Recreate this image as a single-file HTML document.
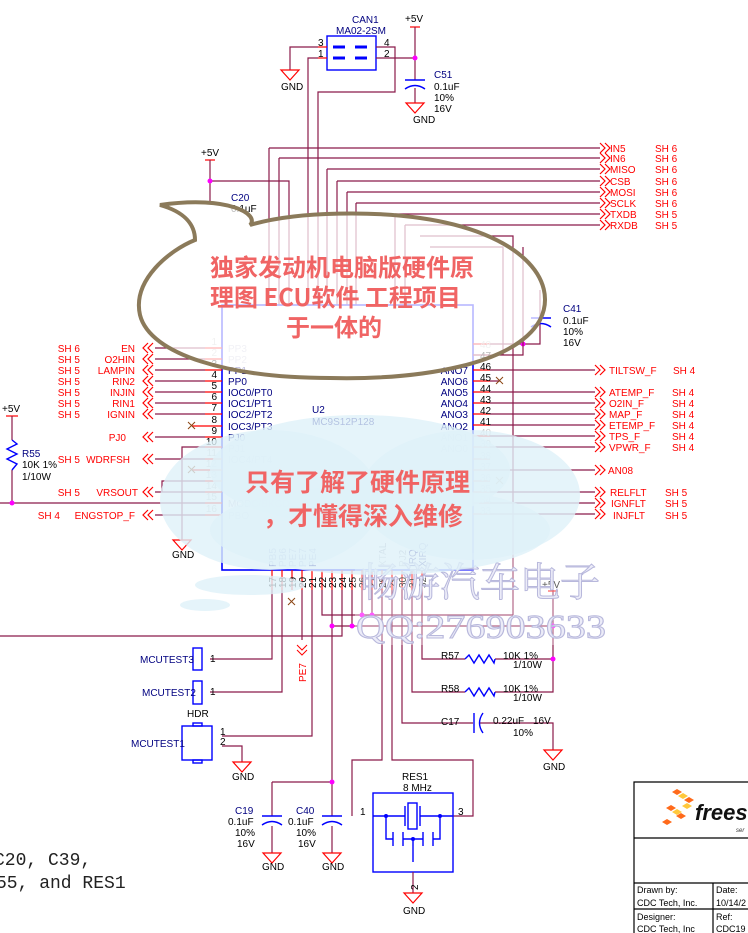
<!DOCTYPE html>
<html><head><meta charset="utf-8"><style>
html,body{margin:0;padding:0;background:#fff;width:748px;height:933px;overflow:hidden}
svg{display:block}
svg{font-family:"Liberation Sans","Noto Sans CJK SC",sans-serif}
.w{stroke:#8b1a4a;stroke-width:1.2;fill:none}
.r{stroke:#ff0000;stroke-width:1.2;fill:none}
.b{stroke:#0000ff;stroke-width:1.4;fill:none}
.lr{fill:#ff0000;font-size:10px}
.lb{fill:#000080;font-size:10px}
.lk{fill:#000;font-size:10px}
.mono{font-family:"Liberation Mono",monospace}
.cjk{font-family:"Noto Sans CJK SC",sans-serif}
.serif{font-family:"Liberation Serif",serif}
.cjks{font-family:"Noto Serif CJK SC",serif}
</style></head><body>
<svg width="748" height="933" viewBox="0 0 748 933" xmlns="http://www.w3.org/2000/svg">
<defs>
<path id="ch" d="M10,-5 L5,0 L10,5 M15,-5 L10,0 L15,5" stroke="#ff0000" stroke-width="1.2" fill="none"/>
<path id="chr" d="M0,-5 L5,0 L0,5 M5,-5 L10,0 L5,5" stroke="#ff0000" stroke-width="1.2" fill="none"/>
<g id="gnd"><path d="M-9,0 L9,0 L0,10 Z" stroke="#ff0000" stroke-width="1.2" fill="none"/></g>
</defs>

<!-- CAN1 -->
<rect x="327" y="36" width="49" height="34" class="b"/>
<g stroke="#0000ff" stroke-width="3"><line x1="333" y1="47" x2="345" y2="47"/><line x1="355" y1="47" x2="367" y2="47"/><line x1="333" y1="58" x2="345" y2="58"/><line x1="355" y1="58" x2="367" y2="58"/></g>
<text x="352" y="23" class="lb">CAN1</text><text x="336" y="34" class="lb">MA02-2SM</text>
<text x="318" y="46" class="lk">3</text><text x="318" y="57" class="lk">1</text><text x="384" y="46" class="lk">4</text><text x="384" y="57" class="lk">2</text>
<path class="w" d="M318,47 H290 V70"/><line class="r" x1="318" y1="47" x2="327" y2="47"/>
<use href="#gnd" x="290" y="70"/><text x="281" y="90" class="lk">GND</text>
<path class="w" d="M318,58 H308 V305"/><line class="r" x1="318" y1="58" x2="327" y2="58"/>
<path class="w" d="M376,47 H395 V92 H318 V305"/>
<path class="w" d="M376,58 H415"/>
<text x="405" y="22" class="lk">+5V</text><line class="r" x1="410" y1="27" x2="420" y2="27"/>
<path class="w" d="M415,27 V80 M415,88 V103"/>
<circle cx="415" cy="58" r="2.5" fill="#ff00ff"/>
<line class="b" x1="405" y1="80" x2="425" y2="80"/><path class="b" d="M405,89 Q415,82 425,89"/>
<use href="#gnd" x="415" y="103"/><text x="413" y="123" class="lk">GND</text>
<text x="434" y="78" class="lb">C51</text><text x="434" y="90" class="lk">0.1uF</text><text x="434" y="101" class="lk">10%</text><text x="434" y="112" class="lk">16V</text>

<!-- C20 -->
<text x="201" y="156" class="lk">+5V</text><line class="r" x1="205" y1="160" x2="215" y2="160"/>
<path class="w" d="M210,160 V203 M210,181 H289 V305"/>
<circle cx="210" cy="181" r="2.5" fill="#ff00ff"/>
<line class="b" x1="200" y1="203" x2="220" y2="203"/>
<text x="231" y="201" class="lb">C20</text><text x="231" y="212" class="lk">0.1uF</text>

<!-- top nets -->
<g class="w">
<path d="M269,148 H600 M269,148 V305"/>
<path d="M279,158 H600 M279,158 V305"/>
<path d="M327,169 H600 M327,169 V305"/>
<path d="M337,181 H600 M337,181 V305"/>
<path d="M347,192 H600 M347,192 V305"/>
<path d="M356,203 H600 M356,203 V305"/>
<path d="M395,214 H600 M395,214 V305"/>
<path d="M405,225 H600 M405,225 V305"/>
<path d="M420,236 H513 V615"/>
<path d="M430,247 H503 V355"/>
<path d="M473,344 H540 V290"/>
</g>
<g>
<use href="#chr" x="600" y="148"/><use href="#chr" x="600" y="158"/><use href="#chr" x="600" y="169"/><use href="#chr" x="600" y="181"/><use href="#chr" x="600" y="192"/><use href="#chr" x="600" y="203"/><use href="#chr" x="600" y="214"/><use href="#chr" x="600" y="225"/>
</g>
<g class="lr">
<text x="610" y="152">IN5</text><text x="655" y="152">SH 6</text>
<text x="610" y="162">IN6</text><text x="655" y="162">SH 6</text>
<text x="610" y="173">MISO</text><text x="655" y="173">SH 6</text>
<text x="610" y="185">CSB</text><text x="655" y="185">SH 6</text>
<text x="610" y="196">MOSI</text><text x="655" y="196">SH 6</text>
<text x="610" y="207">SCLK</text><text x="655" y="207">SH 6</text>
<text x="610" y="218">TXDB</text><text x="655" y="218">SH 5</text>
<text x="610" y="229">RXDB</text><text x="655" y="229">SH 5</text>
</g>
<line class="b" x1="531" y1="318" x2="551" y2="318"/><path class="b" d="M531,327 Q541,320 551,327"/>
<text x="563" y="312" class="lb">C41</text><text x="563" y="324" class="lk">0.1uF</text><text x="563" y="335" class="lk">10%</text><text x="563" y="346" class="lk">16V</text>
<circle cx="523" cy="344" r="2.5" fill="#ff00ff"/>

<!-- chip -->
<rect x="222" y="305" width="251" height="265" fill="none" stroke="#0000ff" stroke-width="1.6"/>
<text x="312" y="413" class="lb">U2</text><text x="312" y="425" class="lb">MC9S12P128</text>

<!-- left pins -->
<g class="w">
<path d="M155,348 H205 M155,359 H205 M155,370 H205 M155,381 H205 M155,392 H205 M155,403 H205 M155,414 H205 M155,437 H205 M155,459 H205 M162,492 H205 M155,515 H205 M0,503 H205"/>
<path d="M205,447 H182 V540"/>
<path d="M162,492 V481 H205 M155,492 H162"/>
</g>
<g class="r"><path d="M205,348H222M205,359H222M205,370H222M205,381H222M205,392H222M205,403H222M205,414H222M192,426H222M205,437H222M205,447H222M205,459H222M192,470H222M205,481H222M205,492H222M205,503H222M205,515H222"/></g>
<path d="M188,422 l7,7 m0,-7 l-7,7 M188,466 l7,7 m0,-7 l-7,7" stroke="#8b4513" stroke-width="1"/>
<use href="#gnd" x="182" y="540"/><text x="172" y="558" class="lk">GND</text>
<g><use href="#ch" x="138" y="348"/><use href="#ch" x="138" y="359"/><use href="#ch" x="138" y="370"/><use href="#ch" x="138" y="381"/><use href="#ch" x="138" y="392"/><use href="#ch" x="138" y="403"/><use href="#ch" x="138" y="414"/><use href="#ch" x="138" y="437"/><use href="#ch" x="138" y="459"/><use href="#ch" x="138" y="492"/><use href="#ch" x="138" y="515"/></g>
<g class="lr" text-anchor="end">
<text x="80" y="352">SH 6</text><text x="135" y="352">EN</text>
<text x="80" y="363">SH 5</text><text x="135" y="363">O2HIN</text>
<text x="80" y="374">SH 5</text><text x="135" y="374">LAMPIN</text>
<text x="80" y="385">SH 5</text><text x="135" y="385">RIN2</text>
<text x="80" y="396">SH 5</text><text x="135" y="396">INJIN</text>
<text x="80" y="407">SH 5</text><text x="135" y="407">RIN1</text>
<text x="80" y="418">SH 5</text><text x="135" y="418">IGNIN</text>
<text x="126" y="441">PJ0</text>
<text x="80" y="463">SH 5</text><text x="130" y="463">WDRFSH</text>
<text x="80" y="496">SH 5</text><text x="138" y="496">VRSOUT</text>
<text x="60" y="519">SH 4</text><text x="135" y="519">ENGSTOP_F</text>
</g>
<g class="lk" text-anchor="end" font-size="10">
<text x="217" y="345" fill="#ccc">1</text><text x="217" y="356" fill="#ccc">2</text><text x="217" y="367">3</text><text x="217" y="378">4</text><text x="217" y="389">5</text><text x="217" y="400">6</text><text x="217" y="411">7</text><text x="217" y="423">8</text><text x="217" y="434">9</text><text x="217" y="445">10</text><text x="217" y="456" fill="#ccc">11</text><text x="217" y="467" fill="#ccc">12</text><text x="217" y="478" fill="#ccc">13</text><text x="217" y="489" fill="#ccc">14</text><text x="217" y="500" fill="#ccc">15</text><text x="217" y="512" fill="#ccc">16</text>
</g>
<g class="lb">
<text x="228" y="352" fill="#ccd">PP3</text><text x="228" y="363" fill="#ccd">PP2</text><text x="228" y="374">PP1</text><text x="228" y="385">PP0</text><text x="228" y="396">IOC0/PT0</text><text x="228" y="407">IOC1/PT1</text><text x="228" y="418">IOC2/PT2</text><text x="228" y="430">IOC3/PT3</text><text x="228" y="441">PJ0</text><text x="228" y="452" fill="#ccd">PJ1</text><text x="228" y="463" fill="#ccd">IOC4/PT4</text><text x="228" y="519" fill="#ccd">PBO</text><text x="228" y="507" fill="#ccd">MODC/BKGD</text>
</g>

<!-- left R55 -->
<text x="2" y="412" class="lk">+5V</text><line class="r" x1="6" y1="416" x2="18" y2="416"/>
<path class="w" d="M12,416 V440 M12,470 V503"/>
<path class="b" d="M12,440 l5,4 l-10,5 l10,5 l-10,5 l10,5 l-5,6"/>
<circle cx="12" cy="503" r="2.5" fill="#ff00ff"/>
<text x="22" y="457" class="lb">R55</text><text x="22" y="468" class="lk">10K  1%</text><text x="22" y="480" class="lk">1/10W</text>

<!-- right pins -->
<g class="r"><path d="M473,344H490M473,355H490M473,370H490M473,381H490M473,392H490M473,403H490M473,414H490M473,425H490M473,436H490M473,447H490M473,459H490M473,470H490M473,481H490M473,492H490M473,503H490M473,514H490"/></g>
<g class="w"><path d="M490,370H595M490,392H595M490,403H595M490,414H595M490,425H595M490,436H595M490,447H595M490,470H595M490,492H595M490,503H595M490,514H595M490,381H500M473,355H523V247"/></g>
<path d="M496,377 l7,7 m0,-7 l-7,7 M496,477 l7,7 m0,-7 l-7,7" stroke="#8b4513" stroke-width="1"/>
<g><use href="#chr" x="595" y="370"/><use href="#chr" x="595" y="392"/><use href="#chr" x="595" y="403"/><use href="#chr" x="595" y="414"/><use href="#chr" x="595" y="425"/><use href="#chr" x="595" y="436"/><use href="#chr" x="595" y="447"/><use href="#chr" x="595" y="470"/><use href="#chr" x="595" y="492"/><use href="#chr" x="595" y="503"/><use href="#chr" x="595" y="514"/></g>
<g class="lr">
<text x="609" y="374">TILTSW_F</text><text x="673" y="374">SH 4</text>
<text x="609" y="396">ATEMP_F</text><text x="672" y="396">SH 4</text>
<text x="609" y="407">O2IN_F</text><text x="672" y="407">SH 4</text>
<text x="609" y="418">MAP_F</text><text x="672" y="418">SH 4</text>
<text x="609" y="429">ETEMP_F</text><text x="672" y="429">SH 4</text>
<text x="609" y="440">TPS_F</text><text x="672" y="440">SH 4</text>
<text x="609" y="451">VPWR_F</text><text x="672" y="451">SH 4</text>
<text x="608" y="474">AN08</text>
<text x="610" y="496">RELFLT</text><text x="665" y="496">SH 5</text>
<text x="611" y="507">IGNFLT</text><text x="665" y="507">SH 5</text>
<text x="613" y="519">INJFLT</text><text x="665" y="519">SH 5</text>
</g>
<g class="lk" font-size="10">
<text x="480" y="348" fill="#ccc">48</text><text x="480" y="359">47</text><text x="480" y="370">46</text><text x="480" y="381">45</text><text x="480" y="392">44</text><text x="480" y="403">43</text><text x="480" y="414">42</text><text x="480" y="425">41</text><text x="480" y="436" fill="#ccc">40</text><text x="480" y="447" fill="#ccc">39</text><text x="480" y="459" fill="#ccc">38</text><text x="480" y="470" fill="#ccc">37</text><text x="480" y="481" fill="#ccc">36</text><text x="480" y="492" fill="#ccc">35</text><text x="480" y="503" fill="#ccc">34</text><text x="480" y="514" fill="#ccc">33</text>
</g>
<g class="lb" text-anchor="end">
<text x="468" y="374">ANO7</text><text x="468" y="385">ANO6</text><text x="468" y="396">ANO5</text><text x="468" y="407">ANO4</text><text x="468" y="418">ANO3</text><text x="468" y="430">ANO2</text><text x="468" y="441" fill="#ccd">ANO1</text><text x="468" y="452" fill="#ccd">ANO0</text>
</g>

<!-- bottom pins -->
<g class="r"><path d="M272,570V590M282,570V590M292,570V590M302,570V590M312,570V590M322,570V590M332,570V590M342,570V590M352,570V590M362,570V590M372,570V590M382,570V590M392,570V590M402,570V590M412,570V590M422,570V590"/></g>
<g class="lk" font-size="10">
<text transform="translate(276,588) rotate(-90)">17</text><text transform="translate(286,588) rotate(-90)">18</text><text transform="translate(296,588) rotate(-90)">19</text><text transform="translate(306,588) rotate(-90)">20</text><text transform="translate(316,588) rotate(-90)">21</text><text transform="translate(326,588) rotate(-90)">22</text><text transform="translate(336,588) rotate(-90)">23</text><text transform="translate(346,588) rotate(-90)">24</text><text transform="translate(356,588) rotate(-90)">25</text><text transform="translate(366,588) rotate(-90)">26</text><text transform="translate(376,588) rotate(-90)">27</text><text transform="translate(386,588) rotate(-90)">28</text><text transform="translate(396,588) rotate(-90)">29</text><text transform="translate(406,588) rotate(-90)">30</text><text transform="translate(416,588) rotate(-90)">31</text><text transform="translate(426,588) rotate(-90)">32</text>
</g>
<g class="lb" font-size="9">
<text transform="translate(276,567) rotate(-90)">PB5</text><text transform="translate(286,567) rotate(-90)">PB6</text><text transform="translate(296,567) rotate(-90)">PE7</text><text transform="translate(306,567) rotate(-90)">PE7</text><text transform="translate(316,567) rotate(-90)">PE4</text><text transform="translate(386,567) rotate(-90)" fill="#aab">XTAL</text><text transform="translate(406,567) rotate(-90)" fill="#aab">PJ2</text><text transform="translate(416,567) rotate(-90)">IRQ</text><text transform="translate(426,567) rotate(-90)">XIRQ</text>
</g>
<path d="M288,598 l7,7 m0,-7 l-7,7" stroke="#8b4513" stroke-width="1"/>
<g class="w">
<path d="M272,590V659H210"/>
<path d="M282,590V692H210"/>
<path d="M302,590V640"/>
<path d="M312,590V736H222"/>
<path d="M322,590V615H513"/>
<path d="M332,590V626H553 M332,626V782 M272,782H332V816"/>
<path d="M272,782V816 M272,826V853 M332,826V853"/>
<path d="M342,590V636H0"/>
<path d="M352,590V626 M362,590V615 M372,590V615"/>
<path d="M382,590V760H352V816 M392,590V760H473V816H453"/>
<path d="M402,590V723H473 M480,723H553V750"/>
<path d="M412,590V692H465 M495,692H553V590 M553,600V692"/>
<path d="M422,590V659H465 M495,659H553"/>
<path d="M222,746H242V762"/>
</g>
<line class="r" x1="548" y1="591" x2="558" y2="591"/><text x="542" y="588" class="lk">+5V</text>
<g fill="#ff00ff"><circle cx="362" cy="615" r="2.5"/><circle cx="372" cy="615" r="2.5"/><circle cx="332" cy="626" r="2.5"/><circle cx="352" cy="626" r="2.5"/><circle cx="553" cy="626" r="2.5"/><circle cx="553" cy="659" r="2.5"/><circle cx="332" cy="782" r="2.5"/></g>
<path d="M297,645 l5,5 l5,-5 M297,650 l5,5 l5,-5" stroke="#ff0000" fill="none"/>
<text transform="translate(306,682) rotate(-90)" class="lr">PE7</text>
<!-- R57 R58 -->
<path class="b" d="M465,659 l4,-4 l5,8 l5,-8 l5,8 l5,-8 l5,8 l1,-4 M465,692 l4,-4 l5,8 l5,-8 l5,8 l5,-8 l5,8 l1,-4"/>
<text x="441" y="659" class="lk">R57</text><text x="503" y="659" class="lk">10K  1%</text><text x="513" y="668" class="lk">1/10W</text>
<text x="441" y="692" class="lk">R58</text><text x="503" y="692" class="lk">10K  1%</text><text x="513" y="701" class="lk">1/10W</text>
<!-- C17 -->
<line class="b" x1="474" y1="713" x2="474" y2="733"/><path class="b" d="M483,713 Q476,723 483,733"/>
<text x="441" y="725" class="lk">C17</text><text x="493" y="724" class="lk">0.22uF</text><text x="533" y="724" class="lk">16V</text><text x="513" y="736" class="lk">10%</text>
<use href="#gnd" x="553" y="750"/><text x="543" y="770" class="lk">GND</text>
<!-- MCUTEST -->
<rect x="193" y="648" width="9" height="22" class="b"/><text x="140" y="663" class="lb">MCUTEST3</text><text x="210" y="662" class="lk">1</text>
<rect x="193" y="681" width="9" height="23" class="b"/><text x="142" y="696" class="lb">MCUTEST2</text><text x="210" y="695" class="lk">1</text>
<text x="187" y="717" class="lk">HDR</text>
<rect x="182" y="726" width="30" height="34" class="b"/><rect x="193" y="723" width="9" height="3" class="b"/><rect x="193" y="760" width="9" height="3" class="b"/>
<text x="131" y="747" class="lb">MCUTEST1</text><text x="220" y="735" class="lk">1</text><text x="220" y="745" class="lk">2</text>
<use href="#gnd" x="242" y="762"/><text x="232" y="780" class="lk">GND</text>
<!-- C19 C40 -->
<line class="b" x1="262" y1="816" x2="282" y2="816"/><path class="b" d="M262,825 Q272,818 282,825"/>
<line class="b" x1="322" y1="816" x2="342" y2="816"/><path class="b" d="M322,825 Q332,818 342,825"/>
<text x="235" y="814" class="lb">C19</text><text x="228" y="825" class="lk">0.1uF</text><text x="235" y="836" class="lk">10%</text><text x="237" y="847" class="lk">16V</text>
<text x="296" y="814" class="lb">C40</text><text x="288" y="825" class="lk">0.1uF</text><text x="296" y="836" class="lk">10%</text><text x="298" y="847" class="lk">16V</text>
<use href="#gnd" x="272" y="853"/><text x="262" y="870" class="lk">GND</text>
<use href="#gnd" x="332" y="853"/><text x="322" y="870" class="lk">GND</text>
<!-- RES1 -->
<rect x="373" y="793" width="80" height="79" class="b"/>
<text x="402" y="780" class="lk">RES1</text><text x="403" y="791" class="lk">8 MHz</text>
<text x="360" y="815" class="lk">1</text><text x="458" y="815" class="lk">3</text>
<g class="b"><path d="M373,816H405 M420,816H453 M405,806V826 M420,806V826"/><rect x="408" y="803" width="9" height="26"/><path d="M386,816V839H393 M440,816V839H433 M393,832V846 M403,832V846 M423,832V846 M433,832V846 M403,839H423 M413,839V862"/></g>
<g fill="#0000ff"><circle cx="386" cy="816" r="2"/><circle cx="440" cy="816" r="2"/><circle cx="413" cy="839" r="2"/></g>
<path class="w" d="M413,872V893"/>
<text transform="translate(418,890) rotate(-90)" class="lk">2</text>
<use href="#gnd" x="413" y="893"/><text x="403" y="914" class="lk">GND</text>

<!-- bottom-left text -->
<text x="-6" y="865" class="mono" font-size="18" fill="#222">C20, C39,</text>
<text x="-4" y="888" class="mono" font-size="18" fill="#222">55, and RES1</text>

<!-- title block -->
<g stroke="#000" stroke-width="1.2" fill="none"><path d="M634,933V782H748 M634,838H748 M634,883H748 M634,909H748 M713,883V933"/></g>
<g fill="#ff6a1a"><path d="M672,792l5,-3l5,3l-5,3z M684,800l5,-3l5,3l-5,3z M666,808l5,-3l5,3l-5,3z M676,816l5,-3l5,3l-5,3z M662,822l5,-3l5,3l-5,3z"/></g>
<g fill="#ffc83c"><path d="M678,796l5,-3l5,3l-5,3z M672,812l5,-3l5,3l-5,3z M682,806l5,-3l5,3l-5,3z"/></g>
<text x="695" y="820" font-size="22" font-weight="bold" font-style="italic" fill="#111">frees</text>
<text x="736" y="832" font-size="6" font-style="italic" fill="#333">ser</text>
<g font-size="9" fill="#000"><text x="637" y="893">Drawn by:</text><text x="637" y="906">CDC Tech, Inc.</text><text x="637" y="920">Designer:</text><text x="637" y="932">CDC Tech, Inc</text><text x="716" y="893">Date:</text><text x="716" y="906">10/14/2</text><text x="716" y="920">Ref:</text><text x="716" y="932">CDC19</text></g>

<!-- watermark -->
<rect x="355" y="553" width="250" height="92" fill="#fff" opacity="0.35"/>
<text x="360" y="596" class="cjks" font-size="40" fill="#ececf8" stroke="#b8b8dc" stroke-width="1">畅游汽车电子</text>
<text x="356" y="638" class="serif" font-size="34" fill="#ececf8" stroke="#b8b8dc" stroke-width="1" textLength="250" lengthAdjust="spacingAndGlyphs">QQ:276903633</text>

<!-- speech bubble -->
<path d="M160,205 C230,195 260,215 250,225 C300,210 380,212 420,218 C520,232 560,280 540,320 C515,365 420,380 330,378 C230,378 150,355 140,315 C132,280 170,250 195,240 C195,225 185,212 160,205 Z" fill="#fff" fill-opacity="0.72" stroke="#8b7a5a" stroke-width="4"/>
<g class="cjk" font-size="24" font-weight="bold" fill="#f06464">
<text x="210" y="276">独家发动机电脑版硬件原</text>
<text x="210" y="306">理图  ECU软件 工程项目</text>
<text x="286" y="336">于一体的</text>
</g>

<!-- cloud -->
<g fill="#dff1f9" fill-opacity="0.8">
<ellipse cx="270" cy="500" rx="110" ry="70"/>
<ellipse cx="360" cy="470" rx="150" ry="55"/>
<ellipse cx="470" cy="495" rx="110" ry="65"/>
<ellipse cx="380" cy="530" rx="170" ry="45"/>
<ellipse cx="250" cy="585" rx="55" ry="10"/>
<ellipse cx="205" cy="605" rx="25" ry="6"/>
</g>
<g class="cjk" font-size="25" font-weight="bold" fill="#f06464">
<text x="245" y="491">只有了解了硬件原理</text>
<text x="263" y="525">，才懂得深入维修</text>
</g>
</svg>
</body></html>
